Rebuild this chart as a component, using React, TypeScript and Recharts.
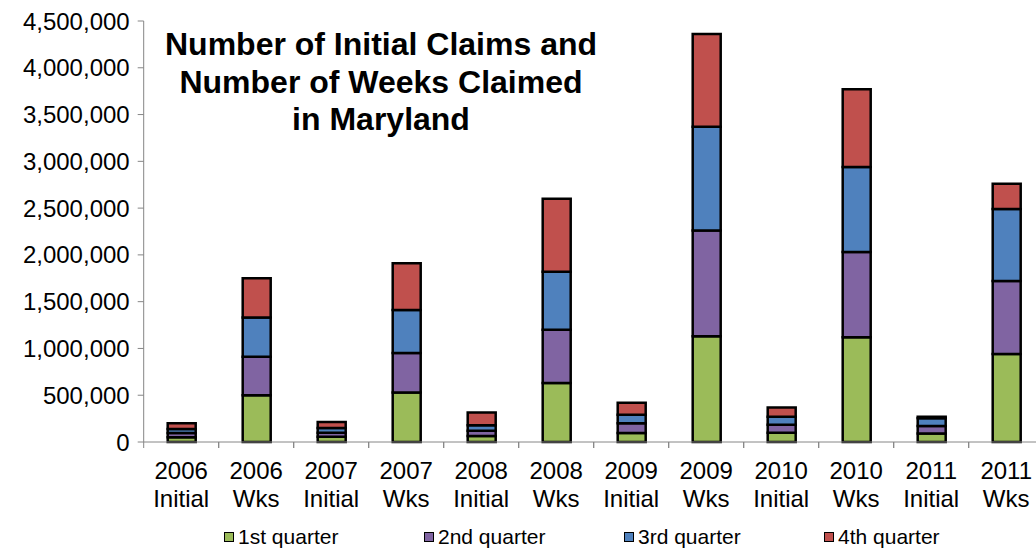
import React from 'react';
import { BarChart, Bar, XAxis, YAxis } from 'recharts';

const categories = [
  '2006 Initial', '2006 Wks', '2007 Initial', '2007 Wks', '2008 Initial', '2008 Wks',
  '2009 Initial', '2009 Wks', '2010 Initial', '2010 Wks', '2011 Initial', '2011 Wks',
];
const q1 = [50000, 500000, 55000, 530000, 65000, 630000, 95000, 1130000, 100000, 1120000, 90000, 940000];
const q2 = [45000, 410000, 45000, 420000, 55000, 570000, 105000, 1130000, 85000, 910000, 80000, 780000];
const q3 = [45000, 420000, 50000, 460000, 60000, 620000, 90000, 1110000, 85000, 910000, 85000, 770000];
const q4 = [60000, 420000, 65000, 500000, 135000, 780000, 130000, 990000, 100000, 830000, 15000, 270000];
const yTicks = [0, 500000, 1000000, 1500000, 2000000, 2500000, 3000000, 3500000, 4000000, 4500000];
const seriesNames = ['1st quarter', '2nd quarter', '3rd quarter', '4th quarter'];
const seriesKeys = ['q1', 'q2', 'q3', 'q4'];
const seriesColors = ['#9BBB59', '#8064A2', '#4F81BD', '#C0504D'];
const titleLines = ['Number of Initial Claims and', 'Number of Weeks Claimed', 'in Maryland'];

const data = categories.map((c, i) => ({ name: c, q1: q1[i], q2: q2[i], q3: q3[i], q4: q4[i] }));

const HALF = 37.5;

const XTick = (props: any) => {
  const { x, y, payload } = props;
  const parts = String(payload.value).split(' ');
  return (
    <g>
      <line x1={x - HALF} x2={x - HALF} y1={y} y2={y + 6} stroke="#868686" strokeWidth={1} />
      <line x1={x + HALF} x2={x + HALF} y1={y} y2={y + 6} stroke="#868686" strokeWidth={1} />
      <text x={x} y={y + 37} textAnchor="middle" fontSize={24} fill="#000">{parts[0]}</text>
      <text x={x} y={y + 65} textAnchor="middle" fontSize={24} fill="#000">{parts[1]}</text>
    </g>
  );
};

export default function App() {
  return (
    <div
      style={{
        position: 'fixed', left: 0, top: 0, width: 1036, height: 548, overflow: 'hidden',
        background: '#fff', fontFamily: '"Liberation Sans", Arial, sans-serif',
      }}
    >
      <BarChart
        width={1060}
        height={548}
        data={data}
        margin={{ top: 21, right: 16.3, bottom: 0, left: 0 }}
        barSize={28}
      >
        <XAxis
          dataKey="name"
          interval={0}
          tickLine={false}
          tickSize={0}
          tickMargin={0}
          axisLine={{ stroke: '#868686', strokeWidth: 1 }}
          tick={<XTick />}
          height={106}
        />
        <YAxis
          width={143.7}
          domain={[0, 4500000]}
          ticks={yTicks}
          interval={0}
          tickSize={6}
          tickMargin={8}
          tickLine={{ stroke: '#868686' }}
          axisLine={{ stroke: '#868686', strokeWidth: 1 }}
          tick={{ fontSize: 24, fill: '#000' }}
          tickFormatter={(v: number) => v.toLocaleString('en-US')}
        />
        {seriesKeys.map((k, i) => (
          <Bar
            key={k}
            dataKey={k}
            stackId="a"
            fill={seriesColors[i]}
            stroke="#000"
            strokeWidth={2.5}
            isAnimationActive={false}
          />
        ))}
      </BarChart>
      <div
        style={{
          position: 'absolute', left: 131, width: 500, top: 26, textAlign: 'center',
          fontWeight: 'bold', fontSize: 32, lineHeight: '37.5px', color: '#000', whiteSpace: 'nowrap',
        }}
      >
        {titleLines.map((t) => (
          <div key={t}>{t}</div>
        ))}
      </div>
      {seriesNames.map((n, i) => (
        <div
          key={n}
          style={{
            position: 'absolute', left: 224 + i * 200, top: 525, height: 24,
            display: 'flex', alignItems: 'center', fontSize: 21, color: '#000',
          }}
        >
          <span
            style={{
              display: 'inline-block', width: 8, height: 8, background: seriesColors[i],
              border: '1.5px solid #000', marginRight: 4,
            }}
          />
          <span>{n}</span>
        </div>
      ))}
    </div>
  );
}
